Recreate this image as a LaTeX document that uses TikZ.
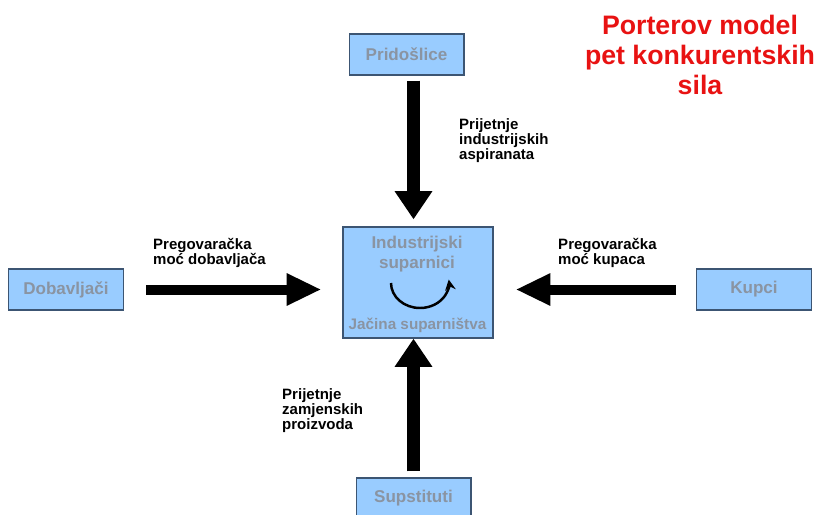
\documentclass[tikz,border=0pt]{standalone}
\usepackage{fontspec}
\setmainfont{Liberation Sans}
\usetikzlibrary{arrows.meta}
\definecolor{boxfill}{RGB}{153,204,255}
\definecolor{boxline}{RGB}{60,85,115}
\definecolor{boxtext}{RGB}{138,148,162}
\definecolor{titlered}{RGB}{232,18,18}

\begin{document}
\begin{tikzpicture}[x=0.85pt, y=-0.85pt]
	\tikzset{force box/.style={draw=boxline, line width=1.1pt, fill=boxfill, text=boxtext, inner sep=0pt,
			font=\fontsize{14.5}{17}\selectfont\bfseries, minimum width=97.5pt, minimum height=35pt},
		h force/.style={line width=8.5pt, -{Triangle[width=25.5pt, length=29.5pt]}},
		v force/.style={line width=10.5pt, -{Triangle[width=30.5pt, length=24pt]}},
		force label/.style={align=left, inner sep=0pt, anchor=north west,
			font=\fontsize{12.75}{11.6}\selectfont\bfseries}}
	\useasboundingbox (0, 0) rectangle (819, 514);
	% \draw (0, 0) grid (819, 514);
	\node[force box] (prid) at (406.5, 54.5) {Pridošlice};
	\node[force box] (dob) at (66, 289.5) {Dobavljači};
	\node[force box] (kup) at (754, 289.5) {Kupci};
	\node[force box] (sup) at (413.5, 498.5) {Supstituti};
	\node[force box, minimum width=127.5pt, minimum height=94.3pt] (rival) at (418, 282.5) {};
	\node[align=center, inner sep=0pt, anchor=north, text=boxtext,
		font=\fontsize{14.5}{17}\selectfont\bfseries] (rname) at (417, 236) {Industrijski\\suparnici};
	\node[inner sep=0pt, anchor=base, text=boxtext,
		font=\fontsize{13}{15}\selectfont\bfseries] (rforce) at (417.5, 329) {Jačina suparništva};
	\draw[line width=2.1pt, -{Stealth[length=9pt, width=9pt, inset=3pt]}]
		(391, 283) arc[start angle=180, end angle=-8, x radius=29, y radius=25];
	\draw[v force, shorten <=4.25pt, shorten >=5.95pt] (prid.south -| sup.north) to (rival.north -| sup.north);
	\draw[v force, shorten <=5.1pt] (sup.north) to (rival.south -| sup.north);
	\draw[h force, shorten <=18.7pt, shorten >=17.85pt] (dob.east) to (rival.west |- dob.east);
	\draw[h force, shorten <=17pt, shorten >=18.7pt] (kup.west) to (rival.east |- kup.west);
	\node[force label] (l1) at (459, 118) {Prijetnje\\industrijskih\\aspiranata};
	\node[force label] (l2) at (153, 238) {Pregovaračka\\moć dobavljača};
	\node[force label] (l3) at (558, 238) {Pregovaračka\\moć kupaca};
	\node[force label] (l4) at (282, 388) {Prijetnje\\zamjenskih\\proizvoda};
	\node[align=center, inner sep=0pt, anchor=north, text=titlered,
		font=\fontsize{22.7}{25.5}\selectfont\bfseries] (title) at (700, 15) {Porterov model\\pet konkurentskih\\sila};
\end{tikzpicture}
\end{document}
